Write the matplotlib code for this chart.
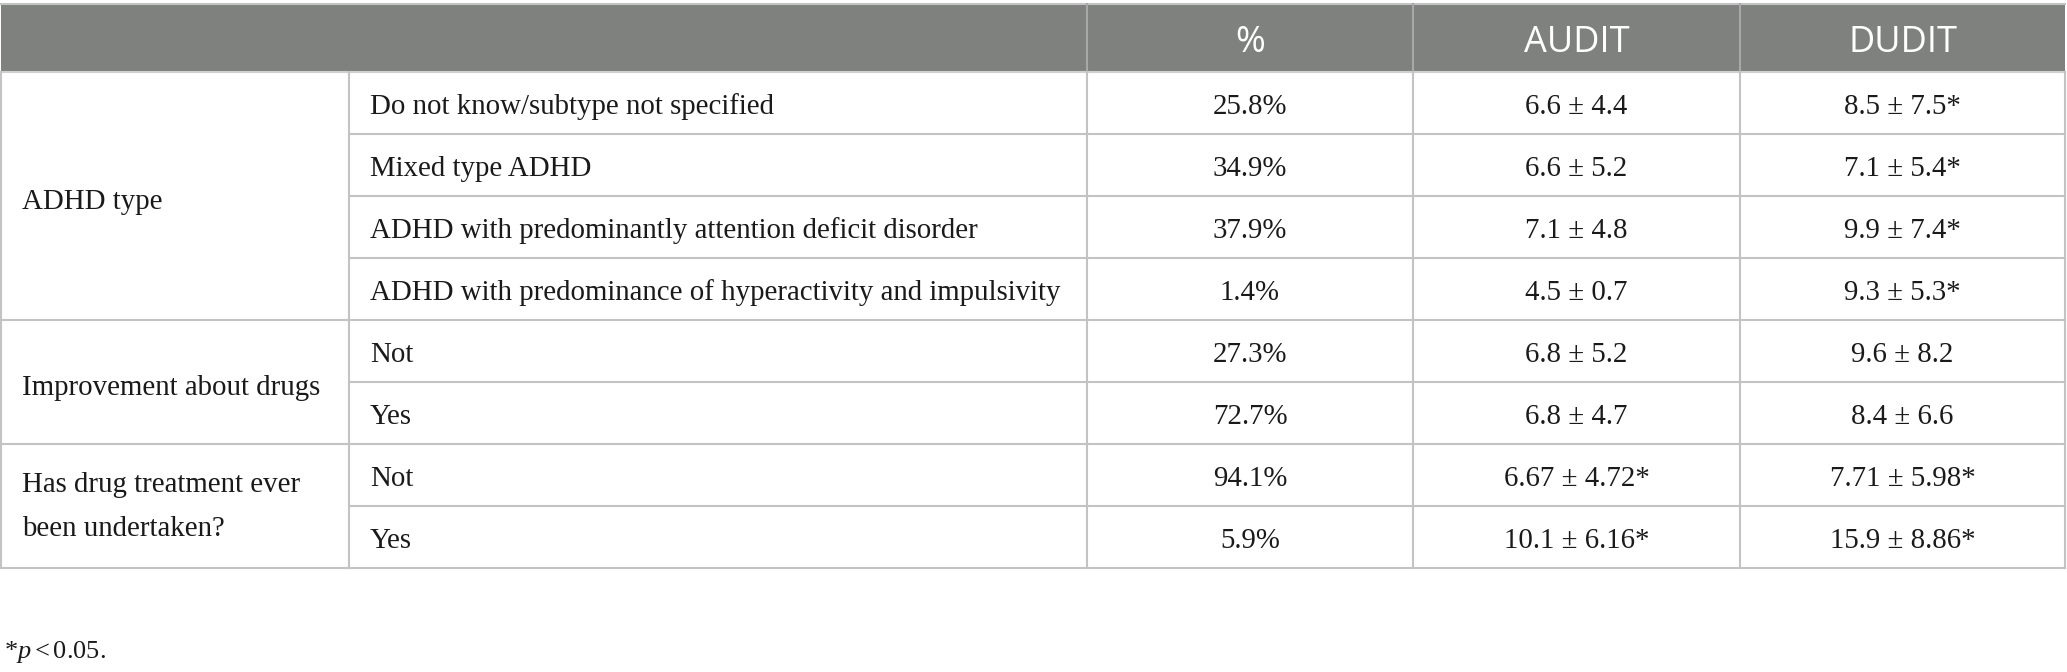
import matplotlib.pyplot as plt

plt.rcParams["mathtext.fontset"] = "custom"
plt.rcParams["mathtext.rm"] = "Liberation Serif"
plt.rcParams["mathtext.it"] = "Liberation Serif:italic"

# table content
header = ["", "", "%", "AUDIT", "DUDIT"]
groups = ["ADHD type", "Improvement about drugs", "Has drug treatment ever\nbeen undertaken?"]
group_sizes = [4, 2, 2]
subgroups = ["Do not know/subtype not specified",
             "Mixed type ADHD",
             "ADHD with predominantly attention deficit disorder",
             "ADHD with predominance of hyperactivity and impulsivity",
             "Not", "Yes", "Not", "Yes"]
pct = ["25.8%", "34.9%", "37.9%", "1.4%", "27.3%", "72.7%", "94.1%", "5.9%"]
audit = ["6.6 ± 4.4", "6.6 ± 5.2", "7.1 ± 4.8", "4.5 ± 0.7",
         "6.8 ± 5.2", "6.8 ± 4.7", "6.67 ± 4.72*", "10.1 ± 6.16*"]
dudit = ["8.5 ± 7.5*", "7.1 ± 5.4*", "9.9 ± 7.4*", "9.3 ± 5.3*",
         "9.6 ± 8.2", "8.4 ± 6.6", "7.71 ± 5.98*", "15.9 ± 8.86*"]

# layout in pixels
W, H = 2067, 672
col_x = [1, 349, 1087, 1413, 1740, 2065]
head_top, head_bot = 4, 72
row_h = 62
pad = 21
line_col = "#c3c3c3"
head_col = "#7f817f"
txt_col = "#1a1a1a"
serif = "Liberation Serif"
sans = "Open Sans"
fs = 20.8

fig = plt.figure(figsize=(W / 100, H / 100), dpi=100)
ax = fig.add_axes([0, 0, 1, 1])
ax.set_xlim(0, W)
ax.set_ylim(H, 0)
ax.axis("off")

# header band
ax.fill_between([col_x[0], col_x[-1]], head_top, head_bot, color=head_col, lw=0)
ax.plot([col_x[0], col_x[-1]], [head_top, head_top], color=line_col, lw=1.5)
ax.plot([col_x[0], col_x[-1]], [head_bot, head_bot], color="#d0d0d0", lw=1.5)
for x in col_x[2:-1]:
    ax.plot([x, x], [head_top, head_bot], color="#a8a8a8", lw=1.5)
for i in range(2, 5):
    ax.text((col_x[i] + col_x[i + 1]) / 2, head_top + 48, header[i],
            ha="center", va="baseline", color="white", fontsize=26, family=sans)

n = len(subgroups)
body_bot = head_bot + n * row_h

# body lines
for x in col_x:
    ax.plot([x, x], [head_bot, body_bot], color=line_col, lw=1.5)
for r in range(1, n + 1):
    y = head_bot + r * row_h
    ax.plot([col_x[1], col_x[-1]], [y, y], color=line_col, lw=1.5)

start = 0
for g, size in zip(groups, group_sizes):
    y0 = head_bot + start * row_h
    y1 = y0 + size * row_h
    ax.plot([col_x[0], col_x[1]], [y1, y1], color=line_col, lw=1.5)
    off = 1 if "\n" in g else 6
    ax.text(col_x[0] + pad, (y0 + y1) / 2 + off, g, ha="left", va="center",
            fontsize=fs, family=serif, color=txt_col, linespacing=1.9)
    start += size

for r in range(n):
    yb = head_bot + r * row_h + 42
    ax.text(col_x[1] + pad, yb, subgroups[r], ha="left", va="baseline",
            fontsize=fs, family=serif, color=txt_col)
    for c, vals in zip([2, 3, 4], [pct, audit, dudit]):
        ax.text((col_x[c] + col_x[c + 1]) / 2, yb, vals[r], ha="center", va="baseline",
                fontsize=fs, family=serif, color=txt_col)

# footnote
ax.text(4, 658, r"*$\mathit{p}<$0.05.", ha="left", va="baseline",
        fontsize=19, family=serif, color=txt_col)

fig.savefig("out.png", dpi=100)
